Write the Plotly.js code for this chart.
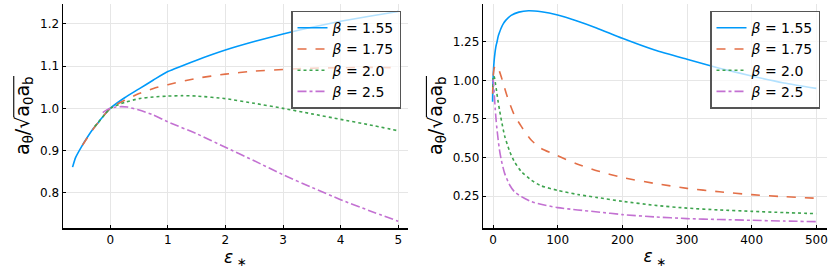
<!DOCTYPE html>
<html>
<head>
<meta charset="utf-8">
<script src="https://cdn.plot.ly/plotly-3.0.1.min.js"></script>
<style>html,body{margin:0;padding:0;background:#fff;} #chart{width:831px;height:277px;}</style>
</head>
<body>
<div id="chart"></div>
<script>
// ---- Data ----
var seriesNames = ["<i>β</i> = 1.55", "<i>β</i> = 1.75", "<i>β</i> = 2.0", "<i>β</i> = 2.5"];

// near range (ε* ≤ 5), shown in left panel and start of right panel
var blueNearX = [-0.654,-0.6,-0.5,-0.4,-0.3,-0.2,-0.1,0,0.25,0.5,0.75,1,1.5,2,2.5,3,3.5,4,4.5,5];
var blueNearY = [0.861,0.884,0.909,0.931,0.951,0.968,0.985,1.0,1.025,1.046,1.067,1.087,1.114,1.138,1.158,1.176,1.192,1.206,1.218,1.229];
var orangeNearX = [-0.48,-0.4,-0.3,-0.2,-0.1,0,0.25,0.5,0.75,1,1.5,2,2.5,3,3.5,4,4.5,5];
var orangeNearY = [0.913,0.930,0.950,0.968,0.985,1.0,1.019,1.035,1.047,1.056,1.071,1.081,1.088,1.092,1.095,1.096,1.097,1.096];
var greenNearX = [-0.27,-0.2,-0.1,0,0.25,0.5,0.75,1,1.25,1.5,2,2.5,3,3.5,4,4.5,5];
var greenNearY = [0.957,0.968,0.985,1.0,1.014,1.023,1.027,1.029,1.030,1.029,1.023,1.012,1.0,0.987,0.974,0.961,0.947];
var purpleNearX = [-0.13,-0.05,0,0.1,0.2,0.3,0.5,0.75,1,1.5,2,2.5,3,3.5,4,4.5,5];
var purpleNearY = [0.990,0.997,1.0,1.003,1.004,1.003,0.996,0.984,0.968,0.940,0.908,0.876,0.843,0.813,0.784,0.758,0.733];

// far range (ε* > 5), right panel only
var blueFarX = [6,8,10,12,16,20,28,40,55,75,100,130,160,200,250,300,350,400,450,500];
var blueFarY = [1.245,1.285,1.31,1.333,1.368,1.39,1.421,1.442,1.451,1.444,1.423,1.385,1.34,1.272,1.196,1.136,1.079,1.028,0.983,0.948];
var orangeFarX = [6,8,10,13,18,23,33,44,59,74,100,131,162,200,250,300,350,400,450,500];
var orangeFarY = [1.094,1.08,1.058,1.02,0.95,0.883,0.775,0.70,0.613,0.56,0.511,0.456,0.413,0.370,0.332,0.300,0.278,0.259,0.246,0.236];
var greenFarX = [6,8,10,13,18,26,33,44,59,74,100,131,162,200,250,300,350,400,450,500];
var greenFarY = [0.915,0.86,0.81,0.74,0.64,0.537,0.473,0.408,0.354,0.317,0.287,0.26,0.24,0.216,0.19,0.172,0.16,0.151,0.143,0.136];
var purpleFarX = [6,8,10,13,18,26,33,44,59,74,100,131,162,200,250,300,350,400,450,500];
var purpleFarY = [0.69,0.615,0.55,0.48,0.397,0.32,0.279,0.246,0.214,0.197,0.175,0.16,0.147,0.130,0.115,0.104,0.098,0.093,0.088,0.084];

var leftXTicks = [0,1,2,3,4,5];
var leftYTicks = [0.8,0.9,1.0,1.1,1.2];
var rightXTicks = [0,100,200,300,400,500];
var rightYTicks = [0.25,0.5,0.75,1.0,1.25];

// ---- Styles ----
var colors = ["#009AFA", "#E36F47", "#3EA44E", "#C371D2"];
var dashes = ["solid", "dash", "dot", "dashdot"];
var nearX = [blueNearX, orangeNearX, greenNearX, purpleNearX];
var nearY = [blueNearY, orangeNearY, greenNearY, purpleNearY];
var farX = [blueFarX, orangeFarX, greenFarX, purpleFarX];
var farY = [blueFarY, orangeFarY, greenFarY, purpleFarY];

var traces = [];
for (var i = 0; i < 4; i++) {
  traces.push({
    x: nearX[i], y: nearY[i], type: "scatter", mode: "lines",
    name: seriesNames[i], xaxis: "x", yaxis: "y", legend: "legend",
    line: {color: colors[i], width: 1.6, dash: dashes[i], shape: "spline", smoothing: 0.6}
  });
}
for (var j = 0; j < 4; j++) {
  traces.push({
    x: nearX[j].concat(farX[j]), y: nearY[j].concat(farY[j]), type: "scatter", mode: "lines",
    name: seriesNames[j], xaxis: "x2", yaxis: "y2", legend: "legend2",
    line: {color: colors[j], width: 1.6, dash: dashes[j], shape: "spline", smoothing: 0.6}
  });
}

var FONT = "DejaVu Sans, sans-serif";
var axisCommon = {
  showline: true, linecolor: "#000", linewidth: 1.5, mirror: false,
  ticks: "inside", ticklen: 3, tickcolor: "#000", tickwidth: 1,
  showgrid: true, gridcolor: "#e6e6e6", gridwidth: 1, zeroline: false,
  tickfont: {family: FONT, size: 12, color: "#000"}
};
function ax(extra) { var o = {}; for (var k in axisCommon) o[k] = axisCommon[k]; for (var k2 in extra) o[k2] = extra[k2]; return o; }

var yTitle = "a<sub>θ</sub>/√a<sub>0</sub>a<sub>b</sub>";
var xTitle = "<i>ε</i><sub> ∗</sub>";
var xTitleFont = {family: FONT, size: 17, color: "#000"};
var yTitleFont = {family: FONT, size: 19, color: "#000"};

var legendCommon = {
  bgcolor: "rgba(255,255,255,0.7)", bordercolor: "#555", borderwidth: 1.5,
  font: {family: FONT, size: 14, color: "#000"},
  xanchor: "left", yanchor: "top", tracegroupgap: 0, itemwidth: 30
};
function lg(extra) { var o = {}; for (var k in legendCommon) o[k] = legendCommon[k]; for (var k2 in extra) o[k2] = extra[k2]; return o; }

var layout = {
  width: 831, height: 277,
  margin: {l: 0, r: 0, t: 0, b: 0},
  paper_bgcolor: "#fff", plot_bgcolor: "#fff",
  font: {family: FONT, size: 12, color: "#000"},
  showlegend: true,
  xaxis: ax({domain: [63/831, 408/831], range: [-0.82, 5.17], tickvals: leftXTicks, anchor: "y",
    title: {text: xTitle, font: xTitleFont, standoff: 4}}),
  yaxis: ax({domain: [1-228/277, 1-3.5/277], range: [0.717, 1.248], tickvals: leftYTicks, tickformat: ".1f", anchor: "x",
    title: {text: yTitle, font: yTitleFont, standoff: 5}}),
  xaxis2: ax({domain: [483.3/831, 826.7/831], range: [-15, 516], tickvals: rightXTicks, anchor: "y2",
    title: {text: xTitle, font: xTitleFont, standoff: 4}}),
  yaxis2: ax({domain: [1-228/277, 1-3.5/277], range: [0.043, 1.498], tickvals: rightYTicks, tickformat: ".2f", anchor: "x2",
    title: {text: yTitle, font: yTitleFont, standoff: 5}}),
  legend: lg({x: 291/831, y: 1-10.7/277}),
  legend2: lg({x: 710/831, y: 1-10.7/277})
};

function addVinculum() {
  var texts = document.querySelectorAll(".g-ytitle text, .g-y2title text");
  texts.forEach(function (t) {
    var s = t.textContent;
    var idx = s.indexOf("√");
    if (idx < 0) return;
    var last = s.length - 1;
    while (last > idx && /[\u200b\s]/.test(s.charAt(last))) last--;
    try {
      var r = t.getExtentOfChar(idx);
      var e = t.getExtentOfChar(last);
      var y = r.y + 0.12 * r.height;
      var ln = document.createElementNS("http://www.w3.org/2000/svg", "line");
      ln.setAttribute("x1", r.x + r.width - 0.6);
      ln.setAttribute("x2", e.x + e.width + 0.5);
      ln.setAttribute("y1", y);
      ln.setAttribute("y2", y);
      ln.setAttribute("stroke", "#000");
      ln.setAttribute("stroke-width", "1.1");
      var tr = t.getAttribute("transform");
      if (tr) ln.setAttribute("transform", tr);
      t.parentNode.appendChild(ln);
    } catch (err) {}
  });
}

Plotly.newPlot("chart", traces, layout, {staticPlot: true, displayModeBar: false}).then(addVinculum);
</script>
</body>
</html>
